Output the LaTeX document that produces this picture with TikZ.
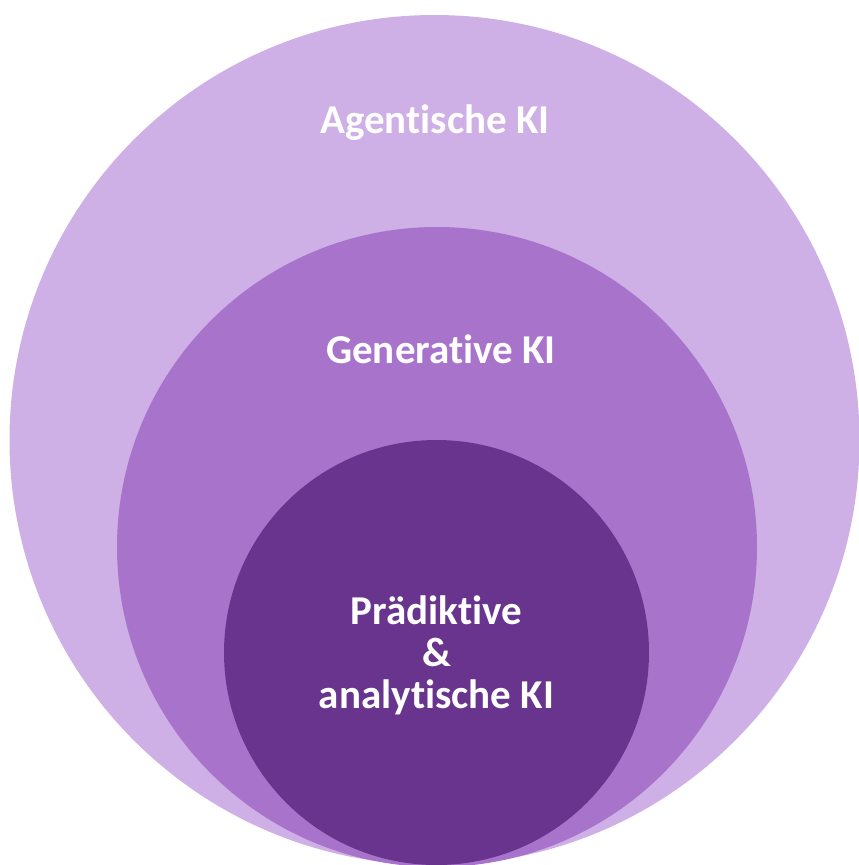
\documentclass[tikz,border=0pt]{standalone}
\usepackage{fontspec}
\setmainfont{Carlito}[Ligatures = NoCommon]
\usetikzlibrary{positioning}
\definecolor{agentcol}{HTML}{CEAFE6}
\definecolor{gencol}{HTML}{A874CB}
\definecolor{predcol}{HTML}{68348E}
\tikzset{
ring/.style args = {#1, #2}{ circle, draw = none, fill = #2, minimum size = #1, inner sep = 0pt },
ring label/.style = { text = white, font = \fontsize{41}{42}\selectfont\bfseries, inner sep = 0pt, align = center },
}
\begin{document}
\begin{tikzpicture}[x = 1pt, y = -1pt]
    \useasboundingbox (0, 0) rectangle (859, 865);
    \node[ring = {850pt, agentcol}] (agent) at (434.5, 440) {};
    \node[ring = {640pt, gencol}] (gen) at (437, 547) {};
    \node[ring = {425pt, predcol}] (pred) at (436.5, 652.5) {};
    \node[ring label, anchor = base] (agent label) at (435, 133) {Agentische KI};
    \node[ring label, anchor = base] (gen label) at (441, 363) {Generative KI};
    \node[ring label] (pred label) at (436.5, 655) {Prädiktive\\\&\\analytische KI};
\end{tikzpicture}
\end{document}
